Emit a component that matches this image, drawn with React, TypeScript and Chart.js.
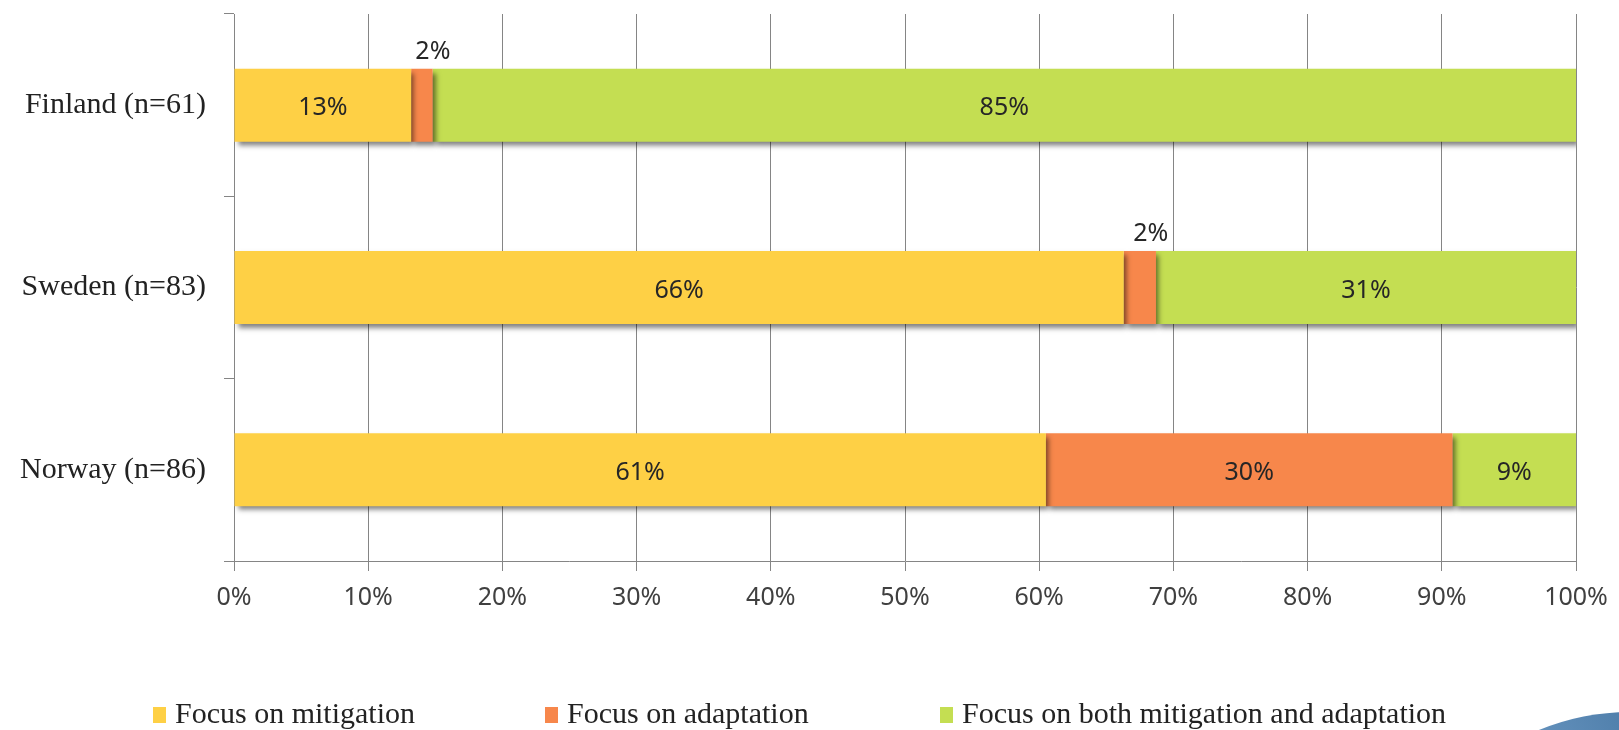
import React, { useEffect, useRef } from "react";
import { Chart, registerables } from "chart.js";

Chart.register(...registerables);

const categories = ["Finland (n=61)", "Sweden (n=83)", "Norway (n=86)"];
const seriesNames = [
  "Focus on mitigation",
  "Focus on adaptation",
  "Focus on both mitigation and adaptation",
];
const mitigation = [13.2, 66.3, 60.5];
const adaptation = [1.6, 2.4, 30.3];
const both = [85.2, 31.3, 9.2];
const seriesColors = ["#FED045", "#F7874B", "#C4DE52"];
const xTickValues = [0, 10, 20, 30, 40, 50, 60, 70, 80, 90, 100];

const GRID = "#858585";

const shadowPlugin = {
  id: "barShadow",
  beforeDatasetsDraw(chart: any) {
    const ctx = chart.ctx;
    ctx.save();
    ctx.shadowColor = "rgba(0,0,0,0.5)";
    ctx.shadowBlur = 5;
    ctx.shadowOffsetX = 3;
    ctx.shadowOffsetY = 4;
  },
  afterDatasetsDraw(chart: any) {
    chart.ctx.restore();
  },
};

const labelPlugin = {
  id: "barLabels",
  afterDraw(chart: any) {
    const ctx = chart.ctx;
    ctx.save();
    ctx.font = "25px 'Noto Sans'";
    ctx.fillStyle = "#262626";
    ctx.textAlign = "center";
    ctx.textBaseline = "middle";
    chart.data.datasets.forEach((ds: any, i: number) => {
      const meta = chart.getDatasetMeta(i);
      meta.data.forEach((bar: any, j: number) => {
        const v = ds.data[j];
        const p = bar.getProps(["x", "y", "base", "height"], true);
        const cx = (p.x + p.base) / 2;
        const txt = Math.round(v) + "%";
        if (v < 5) {
          ctx.fillText(txt, cx + 11, p.y - p.height / 2 - 17);
        } else {
          ctx.fillText(txt, cx, p.y + 3);
        }
      });
    });
    ctx.restore();
  },
};

const legendPlugin = {
  id: "customLegend",
  afterDraw(chart: any) {
    const ctx = chart.ctx;
    const xs = [153, 545, 940];
    const baseline = 723;
    ctx.save();
    ctx.font = "30px 'Liberation Serif'";
    ctx.textBaseline = "alphabetic";
    ctx.textAlign = "left";
    chart.data.datasets.forEach((ds: any, i: number) => {
      ctx.fillStyle = ds.backgroundColor;
      ctx.fillRect(xs[i], baseline - 16, 13, 16);
      ctx.fillStyle = "#222222";
      ctx.fillText(ds.label, xs[i] + 22, baseline);
    });
    ctx.restore();
  },
};

export default function App() {
  const ref = useRef<HTMLCanvasElement | null>(null);

  useEffect(() => {
    if (!ref.current) return;
    const values = [mitigation, adaptation, both];
    const chart = new Chart(ref.current, {
      type: "bar",
      data: {
        labels: categories,
        datasets: seriesNames.map((name, i) => ({
          label: name,
          data: values[i],
          backgroundColor: seriesColors[i],
          borderWidth: 0,
          barPercentage: 0.4,
          categoryPercentage: 1,
        })),
      },
      options: {
        indexAxis: "y",
        responsive: false,
        animation: false,
        layout: { padding: { top: 14, right: 43, left: 0, bottom: 0 } },
        plugins: {
          legend: { display: false },
          tooltip: { enabled: false },
          title: { display: false },
        },
        scales: {
          x: {
            stacked: true,
            min: 0,
            max: 100,
            afterBuildTicks: (s: any) => {
              s.ticks = xTickValues.map((v) => ({ value: v }));
            },
            ticks: {
              callback: (v: any) => v + "%",
              font: { family: "'Noto Sans'", size: 25 },
              color: "#404040",
              padding: 12,
              maxRotation: 0,
            },
            grid: {
              color: GRID,
              lineWidth: 1,
              tickLength: 10,
              drawOnChartArea: true,
            },
            border: { color: GRID, width: 1 },
            afterFit: (s: any) => {
              s.height = 169;
              s.paddingLeft = 0;
              s.paddingRight = 0;
            },
          },
          y: {
            stacked: true,
            ticks: {
              font: { family: "'Liberation Serif'", size: 30 },
              color: "#222222",
              padding: 18,
            },
            grid: {
              drawOnChartArea: false,
              tickLength: 10,
              color: GRID,
              offset: true,
            },
            border: { color: GRID, width: 1 },
            afterFit: (s: any) => {
              s.width = 234;
              s.paddingTop = 0;
              s.paddingBottom = 0;
            },
          },
        },
      } as any,
      plugins: [shadowPlugin, labelPlugin, legendPlugin],
    });
    return () => chart.destroy();
  }, []);

  return (
    <div
      style={{
        position: "fixed",
        left: 0,
        top: 0,
        width: 1619,
        height: 730,
        overflow: "hidden",
        background: "#ffffff",
      }}
    >
      <canvas ref={ref} width={1619} height={730} style={{ display: "block" }} />
      <div
        style={{
          position: "absolute",
          left: 1392,
          top: 712,
          width: 476,
          height: 476,
          borderRadius: "50%",
          background: "radial-gradient(circle at 25% 10%, #6a97c2, #3b6c99 40%, #2d5a86)",
        }}
      />
    </div>
  );
}
